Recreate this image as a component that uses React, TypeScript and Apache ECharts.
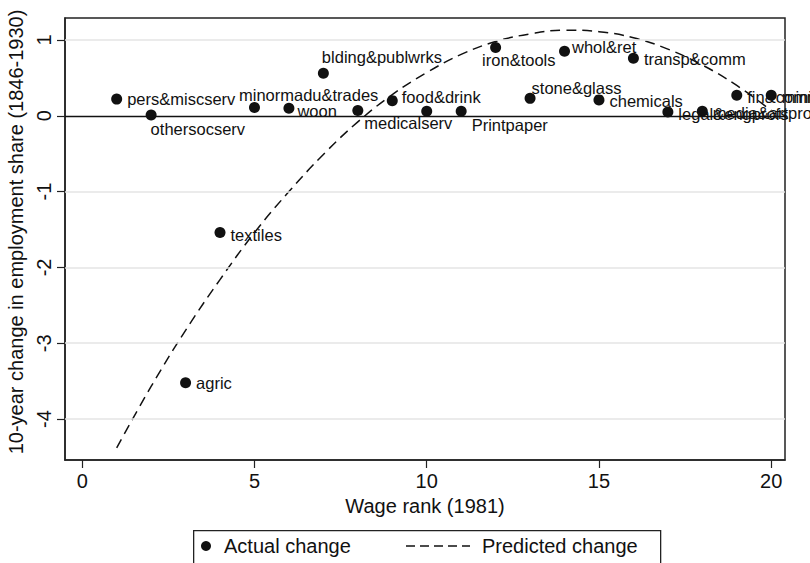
import React, { useEffect, useRef } from "react";
import * as echarts from "echarts";

const wageRank = [1, 2, 3, 4, 5, 6, 7, 8, 9, 10, 11, 12, 13, 14, 15, 16, 17, 18, 19, 20];
const industries = [
  "pers&miscserv", "othersocserv", "agric", "textiles", "minormadu&trades",
  "woon", "blding&publwrks", "medicalserv", "food&drink", "",
  "Printpaper", "iron&tools", "stone&glass", "whol&ret", "chemicals",
  "transp&comm", "legal&engprofs", "media&artpro", "fin&comm", "mining",
];
const actualChange = [
  0.22, 0.01, -3.52, -1.54, 0.11, 0.10, 0.56, 0.07, 0.20, 0.06,
  0.06, 0.90, 0.23, 0.85, 0.21, 0.76, 0.05, 0.06, 0.27, 0.27,
];
const predictedChange = [
  -4.38, -3.57, -2.83, -2.16, -1.54, -1.0, -0.51, -0.08, 0.28, 0.57,
  0.81, 0.98, 1.08, 1.13, 1.11, 1.03, 0.88, 0.67, 0.4, 0.07,
];
const xTicks = [0, 5, 10, 15, 20];
const yTicks = [-4, -3, -2, -1, 0, 1];
const xTitle = "Wage rank (1981)";
const yTitle = "10-year change in employment share (1846-1930)";
const seriesNames = ["Actual change", "Predicted change"];

// label placement tweaks (layout only)
const labelOffsets: Record<string, [number, number]> = {
  "othersocserv": [-11, 14],
  "textiles": [0, 2],
  "minormadu&trades": [-26, -12],
  "woon": [-2, 3],
  "blding&publwrks": [-12, -16],
  "medicalserv": [-4, 13],
  "food&drink": [-1, -4],
  "Printpaper": [0, 14],
  "iron&tools": [-24, 12],
  "stone&glass": [-9, -10],
  "whol&ret": [-3, -4],
  "chemicals": [0, 1],
  "transp&comm": [0, 1],
  "legal&engprofs": [0, 2],
  "media&artpro": [0, 2],
  "fin&comm": [0, 2],
  "mining": [0, 2],
};

const FONT = "'Liberation Sans', Arial, Helvetica, sans-serif";
const INK = "#111";

export default function App() {
  const ref = useRef<HTMLDivElement>(null);
  useEffect(() => {
    if (!ref.current) return;
    const chart = echarts.init(ref.current, null, { renderer: "svg" });
    const scatterData = wageRank.map((x, i) => ({
      value: [x, actualChange[i]],
      name: industries[i],
    }));
    const option: any = {
      animation: false,
      backgroundColor: "#fff",
      textStyle: { fontFamily: FONT, color: INK },
      grid: {
        left: 65,
        right: 25,
        top: 18,
        bottom: 103,
        show: true,
        borderColor: "#222",
        borderWidth: 1.5,
        backgroundColor: "#fff",
        containLabel: false,
        outerBoundsMode: "none",
      },
      xAxis: {
        type: "value",
        min: -0.5,
        max: 20.4,
        name: xTitle,
        nameLocation: "middle",
        nameGap: 31,
        nameTextStyle: { fontSize: 20, color: INK, fontFamily: FONT },
        axisLine: { show: true, onZero: false, lineStyle: { color: "#222", width: 1.5 } },
        axisTick: {
          show: true,
          length: 8,
          customValues: xTicks,
          lineStyle: { color: "#222", width: 1.2 },
        },
        axisLabel: {
          show: true,
          customValues: xTicks,
          fontSize: 20,
          color: INK,
          margin: 11,
          fontFamily: FONT,
        },
        splitLine: { show: false },
      },
      yAxis: {
        type: "value",
        min: -4.54,
        max: 1.29,
        name: yTitle,
        nameLocation: "middle",
        nameGap: 26,
        nameTextStyle: {
          fontSize: 20,
          color: INK,
          fontFamily: FONT,
          padding: [0, 0, 0, 14],
        },
        axisLine: { show: true, onZero: false, lineStyle: { color: "#222", width: 1.5 } },
        axisTick: {
          show: true,
          length: 8,
          customValues: yTicks,
          lineStyle: { color: "#222", width: 1.2 },
        },
        axisLabel: {
          show: true,
          customValues: yTicks,
          rotate: 90,
          fontSize: 20,
          color: INK,
          margin: 11,
          fontFamily: FONT,
        },
        splitLine: { show: false },
      },
      series: [
        {
          name: "grid",
          type: "line",
          data: [],
          silent: true,
          z: 1,
          markLine: {
            silent: true,
            symbol: ["none", "none"],
            label: { show: false },
            animation: false,
            data: yTicks.map((v) => ({
              yAxis: v,
              lineStyle:
                v === 0
                  ? { color: "#111", width: 1.4, type: "solid" }
                  : { color: "#e4e4e4", width: 1.5, type: "solid" },
            })),
          },
        },
        {
          name: seriesNames[1],
          type: "line",
          data: wageRank.map((x, i) => [x, predictedChange[i]]),
          smooth: 0.4,
          symbol: "none",
          showSymbol: false,
          z: 3,
          lineStyle: { color: "#111", width: 1.5, type: [10, 6] },
        },
        {
          name: seriesNames[0],
          type: "scatter",
          data: scatterData,
          symbol: "circle",
          symbolSize: 11,
          z: 4,
          itemStyle: { color: "#111", opacity: 1 },
          label: {
            show: true,
            position: "right",
            distance: 5,
            formatter: (p: any) => p.name,
            fontSize: 16.5,
            color: INK,
            opacity: 1,
            fontFamily: FONT,
          },
          labelLayout: (p: any) => {
            const name = industries[p.dataIndex];
            const off = labelOffsets[name] || [0, 0];
            return { dx: off[0], dy: off[1], hideOverlap: false };
          },
        },
      ],
      graphic: [
        {
          type: "rect",
          left: 193,
          top: 530,
          shape: { width: 467, height: 40 },
          style: { fill: "#fff", stroke: "#222", lineWidth: 1.3 },
          z: 10,
        },
        {
          type: "circle",
          shape: { cx: 206, cy: 546, r: 5 },
          style: { fill: "#111" },
          z: 11,
        },
        {
          type: "text",
          x: 224,
          y: 546,
          style: {
            text: seriesNames[0],
            fontSize: 20,
            fontFamily: FONT,
            fill: INK,
            verticalAlign: "middle",
            align: "left",
          },
          z: 11,
        },
        {
          type: "line",
          shape: { x1: 406, y1: 546, x2: 470, y2: 546 },
          style: { stroke: "#111", lineWidth: 1.4, lineDash: [9, 5] },
          z: 11,
        },
        {
          type: "text",
          x: 482,
          y: 546,
          style: {
            text: seriesNames[1],
            fontSize: 20,
            fontFamily: FONT,
            fill: INK,
            verticalAlign: "middle",
            align: "left",
          },
          z: 11,
        },
      ],
    };
    chart.setOption(option);
    return () => chart.dispose();
  }, []);
  return (
    <div
      ref={ref}
      style={{ position: "fixed", left: 0, top: 0, width: 810, height: 563, background: "#fff" }}
    />
  );
}
